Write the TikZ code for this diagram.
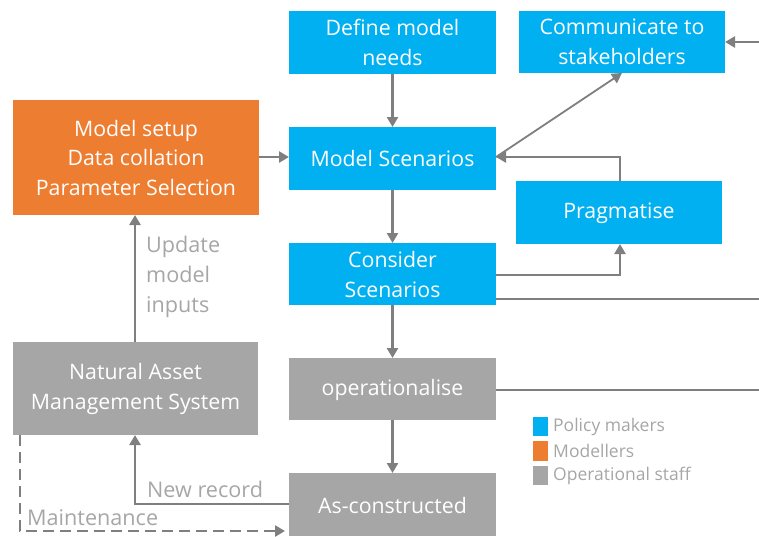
\documentclass[tikz,border=0pt]{standalone}
\usepackage{fontspec}
\setmainfont{Open Sans}
\usetikzlibrary{arrows.meta}
\definecolor{pblue}{HTML}{00B0F0}
\definecolor{porange}{HTML}{ED7D31}
\definecolor{pgray}{HTML}{A6A6A6}
\definecolor{lgray}{HTML}{7F7F7F}
\definecolor{tgray}{HTML}{A6A6A6}
\begin{document}
\begin{tikzpicture}[x=1pt,y=-1pt,
  box/.style={inner sep=0pt, outer sep=0pt, text=white, align=center,
    font=\fontsize{21.3}{29.5}\selectfont},
  conn/.style={draw=lgray, line width=2.5pt, -{Triangle[length=10pt,width=11pt]}},
  thin conn/.style={draw=lgray, line width=1.8pt},
  lbl/.style={text=tgray, inner sep=0pt, font=\fontsize{21.6}{30}\selectfont},
  leg/.style={text=tgray, inner sep=0pt, anchor=west, font=\fontsize{17.5}{20}\selectfont}]
\useasboundingbox (0,0) rectangle (759,536);
% boxes
\fill[pblue] (289,11) rectangle (496,74);
\node[box] (define) at (392.5,42.5) {Define model\\needs};
\fill[pblue] (519,11) rectangle (725,73);
\node[box] (comm) at (622,42) {Communicate to\\stakeholders};
\fill[porange] (13,100) rectangle (259,215);
\node[box] (setup) at (136,158) {Model setup\\Data collation\\Parameter Selection};
\fill[pblue] (289,127) rectangle (496,190);
\node[box] (ms) at (392.5,159) {Model Scenarios};
\fill[pblue] (516,181) rectangle (722,244);
\node[box] (prag) at (619,213) {Pragmatise};
\fill[pblue] (289,243) rectangle (496,305);
\node[box] (cs) at (392.5,274.5) {Consider\\Scenarios};
\fill[pgray] (289,358) rectangle (496,420);
\node[box] (op) at (392.5,390) {operationalise};
\fill[pgray] (13,342) rectangle (258,435);
\node[box] (nams) at (135.5,389) {Natural Asset\\Management System};
\fill[pgray] (289,473) rectangle (496,536);
\node[box] (ac) at (392.5,505.5) {As-constructed};
% anchors on box edges
\coordinate (defineS) at (392.5,74);
\coordinate (msN) at (392.5,127);
\coordinate (msS) at (392.5,190);
\coordinate (msW) at (289,157);
\coordinate (msE) at (496,157);
\coordinate (csN) at (392.5,243);
\coordinate (csS) at (392.5,305);
\coordinate (opN) at (392.5,358);
\coordinate (opS) at (392.5,420);
\coordinate (acN) at (392.5,473);
\coordinate (acW) at (289,504);
\coordinate (setupE) at (259,157);
\coordinate (setupS) at (135,215);
\coordinate (namsN) at (135,342);
\coordinate (namsS) at (135,435);
\coordinate (namsSW) at (20,435);
\coordinate (commS) at (622,73);
\coordinate (commE) at (725,42);
\coordinate (pragN) at (620,181);
\coordinate (pragS) at (620,244);
\coordinate (right1) at (759,42);
\coordinate (right2) at (759,299);
\coordinate (right3) at (759,390);
\coordinate (acWd) at (285,531);
% connectors
\draw[conn] (defineS) -- (msN);
\draw[conn] (msS) -- (csN);
\draw[conn] (csS) -- (opN);
\draw[conn] (opS) -- (acN);
\draw[conn] (setupE) -- (msW);
\draw[conn] (namsN) -- (setupS);
\draw[conn] (acW) -| (namsS);
\draw[conn] (pragN) |- (msE);
\draw[conn] (496,275) -| (pragS);
\draw[thin conn, -{Triangle[length=10pt,width=11pt]}] (msE) -- (commS);
\draw[conn] (right1) -- (commE);
\draw[draw=lgray, line width=2.5pt] (496,299) -- (right2);
\draw[draw=lgray, line width=2.5pt] (496,390) -- (right3);
\draw[conn, dash pattern=on 11pt off 6pt] (namsSW) |- (acWd);
% labels
\node[lbl, anchor=north west, align=left] (upd) at (146,236) {Update\\model\\inputs};
\node[lbl, anchor=west] (newrec) at (147,489) {New record};
\node[lbl, anchor=west] (maint) at (27,518) {Maintenance};
% legend
\fill[pblue] (533,417) rectangle (548,436);
\node[leg] (l1) at (553,426.5) {Policy makers};
\fill[porange] (533,441) rectangle (548,461);
\node[leg] (l2) at (553,451) {Modellers};
\fill[pgray] (533,466) rectangle (548,485);
\node[leg] (l3) at (553,475.5) {Operational staff};
\end{tikzpicture}
\end{document}
